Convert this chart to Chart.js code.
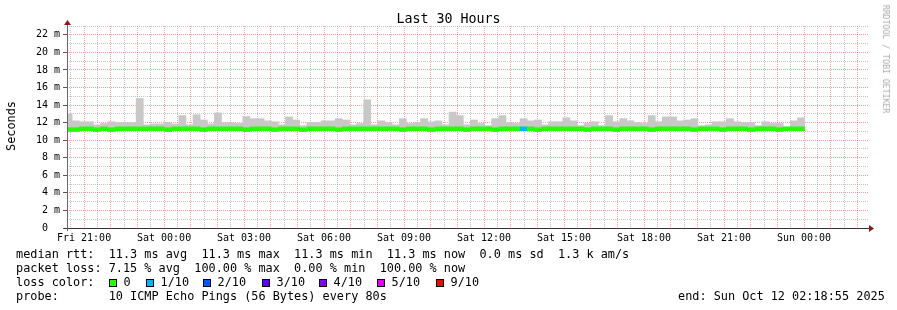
<!DOCTYPE html>
<html>
<head>
<meta charset="utf-8">
<script src="https://cdn.jsdelivr.net/npm/chart.js@4.4.1/dist/chart.umd.min.js"></script>
<style>
  html, body { margin: 0; padding: 0; background: #fff; }
  #wrap { position: relative; width: 897px; height: 310px; overflow: hidden; }
  #c { position: absolute; left: 0; top: 0; }
  .t { position: absolute; font-family: "DejaVu Sans Mono", monospace; color: #000; white-space: pre; line-height: 14px; }
  .lg { font-size: 11.85px; }
  .sw { position: absolute; width: 8px; height: 8px; box-sizing: border-box; border: 1px solid #000; top: 279px; }
</style>
</head>
<body>
<div id="wrap">
  <canvas id="c" width="897" height="310"></canvas>
  <div class="t" style="left:0;top:12px;width:897px;text-align:center;font-size:13.3px">Last 30 Hours</div>
  <div class="t lg" style="left:10.5px;top:125.5px;transform:translate(-50%,-50%) rotate(-90deg)">Seconds</div>
  <div class="t" style="left:886px;top:58.5px;font-size:8.2px;color:#aaa;transform:translate(-50%,-50%) rotate(90deg)">RRDTOOL / TOBI OETIKER</div>

  <div class="t lg" style="left:16px;top:247px">median rtt:  11.3 ms avg  11.3 ms max  11.3 ms min  11.3 ms now  0.0 ms sd  1.3 k am/s</div>
  <div class="t lg" style="left:16px;top:261px">packet loss: 7.15 % avg  100.00 % max  0.00 % min  100.00 % now</div>
  <div class="t lg" style="left:16px;top:275px">loss color:</div>
  <div id="lossLegend"></div>
  <div class="t lg" style="left:16px;top:289px">probe:       10 ICMP Echo Pings (56 Bytes) every 80s</div>
  <div class="t lg" style="left:678px;top:289px">end: Sun Oct 12 02:18:55 2025</div>
</div>

<script>
// hours are counted from Fri 21:00
const xMin = -0.64;
const xMax = 29.4;
const firstStepHour = -0.713;
const stepHours = 16 / 60;

const xTickLabels = ["Fri 21:00", "Sat 00:00", "Sat 03:00", "Sat 06:00", "Sat 09:00",
  "Sat 12:00", "Sat 15:00", "Sat 18:00", "Sat 21:00", "Sun 00:00"];

// top of the smoke (max rtt, ms) per step
const smokeMax = [
  13.0, 12.2, 12.1, 12.1, 11.75, 11.9, 12.1, 12.0, 12.0, 12.0,
  14.75, 11.75, 11.85, 11.85, 12.0, 11.85, 12.8, 11.75, 12.9, 12.3,
  11.85, 13.1, 12.0, 12.0, 11.9, 12.7, 12.45,
  12.45, 12.2, 12.1, 11.75, 12.65, 12.3, 11.65, 12.0, 12.0, 12.2,
  12.2, 12.45, 12.3, 11.75, 11.9, 14.6, 11.75, 12.2, 12.0, 11.75,
  12.45, 11.9, 12.0, 12.45, 12.1, 12.2,
  11.75, 13.2, 12.8, 11.75, 12.3, 11.9, 11.65, 12.45, 12.8, 12.0,
  11.9, 12.45, 12.2, 12.3, 11.75, 12.1, 12.1, 12.55, 12.2, 11.65,
  11.9, 12.1, 11.65, 12.8, 12.1, 12.45,
  12.2, 12.0, 11.9, 12.8, 12.1, 12.65, 12.65, 12.2, 12.3, 12.45,
  11.65, 11.75, 12.1, 12.1, 12.45, 12.1, 12.0, 12.0, 11.65, 12.1,
  11.9, 11.9, 11.5, 12.2, 12.55
];
const smokeFloor = 11.1;

// median rtt (ms) per step
const median = [
  11.2, 11.2, 11.3, 11.3, 11.2, 11.3, 11.2, 11.3, 11.3, 11.3,
  11.3, 11.3, 11.3, 11.3, 11.2, 11.3, 11.3, 11.3, 11.3, 11.2,
  11.3, 11.3, 11.3, 11.3, 11.3, 11.2, 11.3, 11.3, 11.3, 11.2,
  11.3, 11.3, 11.3, 11.2, 11.3, 11.3, 11.3, 11.3, 11.2, 11.3,
  11.3, 11.3, 11.3, 11.3, 11.3, 11.3, 11.3, 11.2, 11.3, 11.3,
  11.3, 11.2, 11.3, 11.3, 11.3, 11.3, 11.2, 11.3, 11.3, 11.3,
  11.2, 11.3, 11.3, 11.3, 11.3, 11.3, 11.2, 11.3, 11.3, 11.3,
  11.3, 11.3, 11.3, 11.2, 11.3, 11.3, 11.3, 11.2, 11.3, 11.3,
  11.3, 11.3, 11.2, 11.3, 11.3, 11.3, 11.3, 11.3, 11.2, 11.3,
  11.3, 11.3, 11.2, 11.3, 11.3, 11.3, 11.2, 11.3, 11.3, 11.3,
  11.2, 11.3, 11.3, 11.3
];

// lost pings out of 10 per step
const loss = [
  0, 0, 0, 0, 0, 0, 0, 0, 0, 0,
  0, 0, 0, 0, 0, 0, 0, 0, 0, 0,
  0, 0, 0, 0, 0, 0, 0, 0, 0, 0,
  0, 0, 0, 0, 0, 0, 0, 0, 0, 0,
  0, 0, 0, 0, 0, 0, 0, 0, 0, 0,
  0, 0, 0, 0, 0, 0, 0, 0, 0, 0,
  0, 0, 0, 0, 1, 0, 0, 0, 0, 0,
  0, 0, 0, 0, 0, 0, 0, 0, 0, 0,
  0, 0, 0, 0, 0, 0, 0, 0, 0, 0,
  0, 0, 0, 0, 0, 0, 0, 0, 0, 0,
  0, 0, 0, 0
];

const lossLabels = ["0", "1/10", "2/10", "3/10", "4/10", "5/10", "9/10"];
const lossColors = ["#26ff00", "#00b8ff", "#0059ff", "#5e00ff", "#7e00ff", "#dd00ff", "#ff0000"];

function lossColor(n) {
  if (n <= 4) return lossColors[n];
  if (n <= 8) return lossColors[5];
  return lossColors[6];
}

// legend swatches
const swatchLeft = [109, 146, 203, 262, 319, 377, 436];
const legendBox = document.getElementById("lossLegend");
lossLabels.forEach((label, i) => {
  const sw = document.createElement("div");
  sw.className = "sw";
  sw.style.left = swatchLeft[i] + "px";
  sw.style.background = lossColors[i];
  legendBox.appendChild(sw);
  const tx = document.createElement("div");
  tx.className = "t lg";
  tx.style.left = (swatchLeft[i] + 14.5) + "px";
  tx.style.top = "275px";
  tx.textContent = label;
  legendBox.appendChild(tx);
});

const stepX = smokeMax.map((_, i) => firstStepHour + (i + 0.5) * stepHours);
const halfBand = 0.22;

const redGrid = "rgba(255, 0, 0, 0.38)";
const grayGrid = "rgba(128, 128, 128, 0.45)";

// axis lines with arrows, like rrdtool
const axisArrows = {
  id: "axisArrows",
  afterDraw(chart) {
    const { ctx, chartArea: a } = chart;
    ctx.save();
    ctx.lineWidth = 1;
    ctx.strokeStyle = "#333";
    ctx.beginPath();
    ctx.moveTo(a.left - 3, a.bottom + 0.5);
    ctx.lineTo(a.right + 2, a.bottom + 0.5);
    ctx.stroke();
    ctx.strokeStyle = "#666";
    ctx.beginPath();
    ctx.moveTo(a.left + 0.5, a.bottom + 3);
    ctx.lineTo(a.left + 0.5, a.top - 3);
    ctx.stroke();
    ctx.fillStyle = "#8b1a1a";
    ctx.beginPath();
    ctx.moveTo(a.right + 6, a.bottom + 0.5);
    ctx.lineTo(a.right + 1, a.bottom - 3);
    ctx.lineTo(a.right + 1, a.bottom + 4);
    ctx.closePath();
    ctx.fill();
    ctx.beginPath();
    ctx.moveTo(a.left + 0.5, a.top - 6);
    ctx.lineTo(a.left - 3, a.top - 1);
    ctx.lineTo(a.left + 4, a.top - 1);
    ctx.closePath();
    ctx.fill();
    ctx.restore();
  }
};

new Chart(document.getElementById("c"), {
  type: "bar",
  data: {
    datasets: [
      {
        label: "median",
        data: stepX.map((x, i) => ({ x, y: [median[i] - halfBand, median[i] + halfBand] })),
        backgroundColor: loss.map(lossColor),
        grouped: false,
        barPercentage: 1,
        categoryPercentage: 1,
        borderWidth: 0
      },
      {
        label: "smoke",
        data: stepX.map((x, i) => ({ x, y: [smokeFloor, smokeMax[i]] })),
        backgroundColor: "#c8c8c8",
        grouped: false,
        barPercentage: 1,
        categoryPercentage: 1,
        borderWidth: 0
      }
    ]
  },
  options: {
    responsive: false,
    animation: false,
    devicePixelRatio: 1,
    layout: { padding: { top: 26, right: 29, bottom: 62, left: 0 } },
    plugins: {
      legend: { display: false },
      tooltip: { enabled: false }
    },
    scales: {
      x: {
        type: "linear",
        min: xMin,
        max: xMax,
        offset: false,
        afterBuildTicks: scale => {
          const ticks = [];
          for (let h = -0.5; h <= 29; h += 0.5) ticks.push({ value: h });
          scale.ticks = ticks;
        },
        afterFit: scale => { scale.height = 20; },
        grid: {
          offset: false,
          color: ctx => (ctx.tick && Number.isInteger(ctx.tick.value)) ? redGrid : grayGrid,
          lineWidth: 1,
          drawTicks: false
        },
        border: { display: false, dash: [1, 1] },
        ticks: {
          autoSkip: false,
          maxRotation: 0,
          padding: 4,
          color: "#000",
          font: { family: "DejaVu Sans Mono", size: 10 },
          callback: v => (v >= 0 && v % 3 === 0) ? xTickLabels[v / 3] : ""
        }
      },
      y: {
        min: 0,
        max: 23,
        afterFit: scale => { scale.width = 67; },
        grid: {
          color: ctx => (ctx.tick && ctx.tick.value % 2 === 0) ? redGrid : grayGrid,
          lineWidth: 1,
          tickLength: 4,
          tickColor: ctx => (ctx.tick && ctx.tick.value % 2 === 0) ? "#555" : "rgba(0,0,0,0)"
        },
        border: { display: false, dash: [1, 1] },
        ticks: {
          stepSize: 1,
          autoSkip: false,
          padding: 3,
          color: "#000",
          font: { family: "DejaVu Sans Mono", size: 10 },
          callback: v => v % 2 !== 0 ? "" : (v === 0 ? "0  " : v + " m")
        }
      }
    }
  },
  plugins: [axisArrows]
});
</script>
</body>
</html>
